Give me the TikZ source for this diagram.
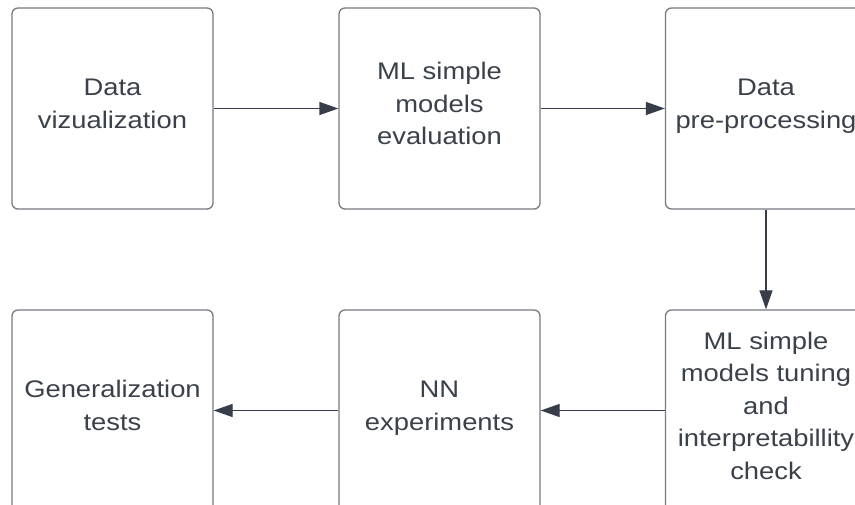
\documentclass[tikz,border=0pt]{standalone}
\usepackage{fontspec}
\newfontfamily\boxfont[FakeStretch=1.14]{Liberation Sans}
\definecolor{lcborder}{RGB}{118,123,131}
\definecolor{lctext}{RGB}{58,65,74}
\definecolor{lcarrow}{RGB}{55,62,74}
\usetikzlibrary{arrows.meta,positioning}

\begin{document}
\begin{tikzpicture}[x=1pt, y=-1pt,
  stage/.style={draw=lcborder, line width=1.3pt, rounded corners=6pt, fill=white,
    minimum width=201pt, minimum height=201pt, align=center, text=lctext,
    text depth=10pt, font=\boxfont\fontsize{24}{32.5}\selectfont},
  flow/.style={-{Triangle[length=19pt, width=13pt]}, line width=1.3pt, lcarrow}]
  \clip (0,0) rectangle (855,505);

  % Top row
  \node[stage] (viz) at (112.5,108.5) {Data\\vizualization};
  \node[stage] (evalml) at (439.5,108.5) {ML simple\\models\\evaluation};
  \node[stage] (prep) at (766,108.5) {Data\\pre-processing};

  % Bottom row
  \node[stage] (tune) at (766,410.5) {ML simple\\models tuning\\and\\interpretabillity\\check};
  \node[stage] (nn) at (439.5,410.5) {NN\\experiments};
  \node[stage] (gen) at (112.5,410.5) {Generalization\\tests};

  % Arrows between stages
  \draw[flow] (viz.east) -- (evalml.west);
  \draw[flow] (evalml.east) -- (prep.west);
  \draw[flow] (prep.south) -- (tune.north);
  \draw[flow] (tune.west) -- (nn.east);
  \draw[flow] (nn.west) -- (gen.east);
\end{tikzpicture}
\end{document}
